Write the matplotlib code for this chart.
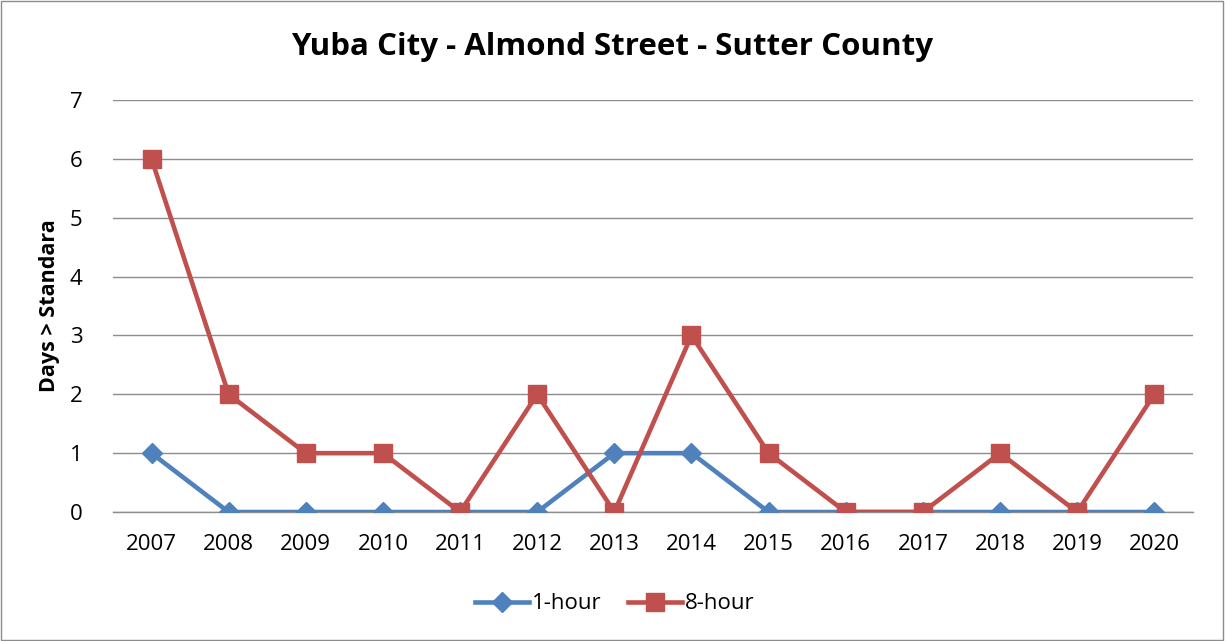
"""
Figure: Yuba City - Almond Street - Sutter County, days > standard
"""
import matplotlib.pyplot as plt
from matplotlib.patches import Rectangle

# --------------------------------------------------------------------------------
# data
# --------------------------------------------------------------------------------
YEARS = ["2007", "2008", "2009", "2010", "2011", "2012", "2013",
         "2014", "2015", "2016", "2017", "2018", "2019", "2020"]
ONE_HOUR = [1, 0, 0, 0, 0, 0, 1, 1, 0, 0, 0, 0, 0, 0]
EIGHT_HOUR = [6, 2, 1, 1, 0, 2, 0, 3, 1, 0, 0, 1, 0, 2]
Y_TICKS = [0, 1, 2, 3, 4, 5, 6, 7]

# plot
COLOR_BLUE = "#4F81BD"
COLOR_RED = "#C0504D"
COLOR_GRID = "#8C8C8C"
FONT = "Open Sans"


def main_function():
    fig = plt.figure(figsize=(12.25, 6.41), dpi=100, facecolor="w")
    ax = fig.add_axes([0.0922, 0.2012, 0.8816, 0.6428])

    x = list(range(len(YEARS)))
    ax.plot(x, ONE_HOUR, color=COLOR_BLUE, linewidth=3.3, marker="D",
            markersize=10, label="1-hour", zorder=3)
    ax.plot(x, EIGHT_HOUR, color=COLOR_RED, linewidth=3.3, marker="s",
            markersize=13, label="8-hour", zorder=4)

    ax.set_xlim(-0.5, len(YEARS) - 0.5)
    ax.set_ylim(0, 7)
    ax.set_yticks(Y_TICKS)
    ax.set_xticks(x)
    ax.set_xticklabels(YEARS, fontsize=16, family=FONT)
    ax.set_yticklabels([str(t) for t in Y_TICKS], fontsize=16, family=FONT)
    ax.tick_params(axis="x", length=0, pad=16)
    ax.tick_params(axis="y", length=0, pad=22)

    ax.grid(axis="y", color=COLOR_GRID, linewidth=1)
    ax.set_axisbelow(True)
    for side in ["top", "right", "left"]:
        ax.spines[side].set_visible(False)
    ax.spines["bottom"].set_color(COLOR_GRID)
    ax.spines["bottom"].set_linewidth(1)
    ax.spines["bottom"].set_zorder(2)

    ax.set_ylabel("Days > Standara", fontsize=15.5, fontweight="bold",
                  family=FONT, labelpad=7)
    fig.text(0.5, 0.926, "Yuba City - Almond Street - Sutter County",
             ha="center", va="center", fontsize=22.5, fontweight="bold",
             family=FONT)

    ax.legend(loc="center", bbox_to_anchor=(0.502, 0.058),
              bbox_transform=fig.transFigure, ncol=2, frameon=False,
              prop={"family": FONT, "size": 16}, handlelength=2.4,
              handletextpad=0.15, columnspacing=1.2)

    fig.patches.append(Rectangle((0.001, 0.002), 0.997, 0.996,
                                 transform=fig.transFigure, fill=False,
                                 edgecolor="#8C8C8C", linewidth=1))

    plt.savefig("out.png", dpi=100)
    plt.close()


if __name__ == '__main__':
    main_function()
